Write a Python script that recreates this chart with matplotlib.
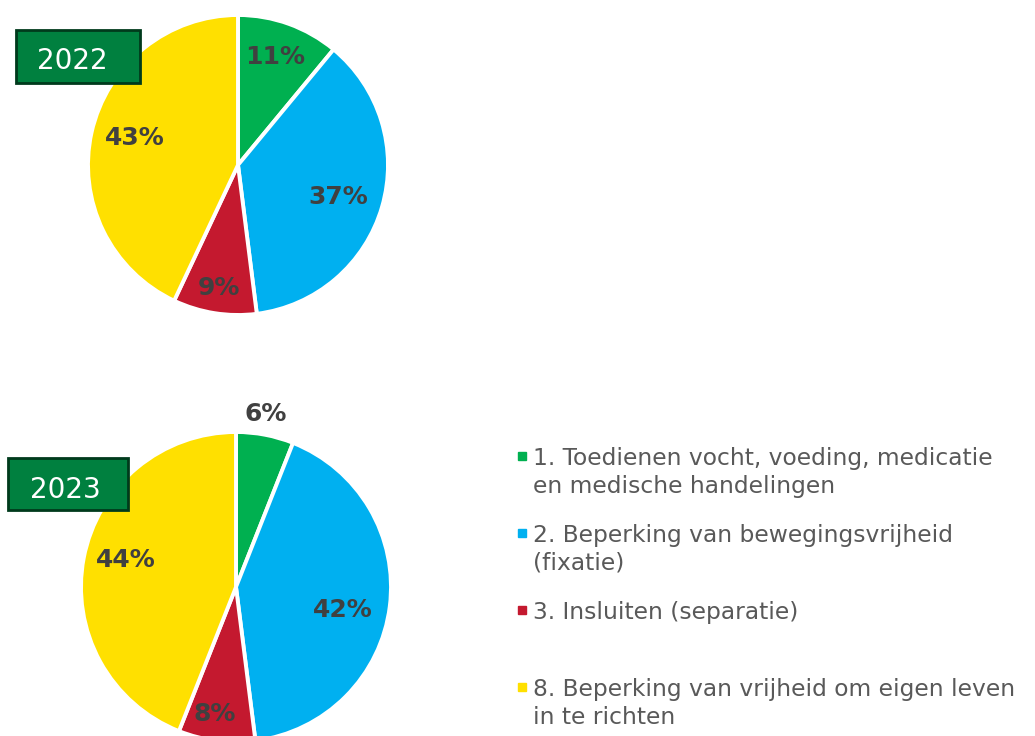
import numpy as np
import matplotlib
matplotlib.use("Agg")
from matplotlib import pyplot as plt
from matplotlib.patches import Rectangle

categories = [
    "1. Toedienen vocht, voeding, medicatie\nen medische handelingen",
    "2. Beperking van bewegingsvrijheid\n(fixatie)",
    "3. Insluiten (separatie)",
    "8. Beperking van vrijheid om eigen leven\nin te richten",
]
years = ["2022", "2023"]
pct_2022 = [11, 37, 9, 43]
pct_2023 = [6, 42, 8, 44]

colors = ["#00B050", "#00B0F0", "#C4192F", "#FFE000"]
label_color = "#404040"
legend_color = "#595959"
box_face = "#00803F"
box_edge = "#003A1C"

W, H = 1035, 736
fig = plt.figure(figsize=(W / 100, H / 100), dpi=100)


def px_axes(left, top, size):
    # axes rect from pixel coords (top-left origin)
    return fig.add_axes([left / W, (H - top - size) / H, size / W, size / H])


def draw_pie(ax, values, dists, shifts):
    wedges, _ = ax.pie(values, colors=colors, startangle=90, counterclock=False,
                       wedgeprops=dict(edgecolor="white", linewidth=2.8))
    ax.set_xlim(-1, 1)
    ax.set_ylim(-1, 1)
    for w, v, d, s in zip(wedges, values, dists, shifts):
        # s: clockwise nudge in degrees
        ang = np.deg2rad((w.theta1 + w.theta2) / 2 - s)
        ax.text(d * np.cos(ang), d * np.sin(ang), f"{v}%", ha="center",
                va="center", fontsize=18, fontweight="bold",
                color=label_color)


ax1 = px_axes(88, 15, 300)
draw_pie(ax1, pct_2022, [0.76, 0.70, 0.83, 0.71], [-0.8, 1.5, 0, 2])

ax2 = px_axes(81, 432, 310)
draw_pie(ax2, pct_2023, [1.135, 0.705, 0.83, 0.73], [-1, 4.7, 2.5, 3])

# overlay in pixel coords for year boxes and legend
ov = fig.add_axes([0, 0, 1, 1], zorder=10)
ov.set_xlim(0, W)
ov.set_ylim(H, 0)
ov.axis("off")

boxes = [(16, 30, 124, 53, 72, 69), (8, 458, 120, 52, 65, 498)]
for yr, (bx, by, bw, bh, tx, ty) in zip(years, boxes):
    ov.add_patch(Rectangle((bx, by), bw, bh, facecolor=box_face,
                           edgecolor=box_edge, linewidth=2))
    ov.text(tx, ty, yr, ha="center", va="baseline", fontsize=20, color="white")

leg_y = [465, 542, 619, 696]
line_h = 28
for lab, c, y in zip(categories, colors, leg_y):
    ov.plot(521.5, y - 9, marker="s", markersize=6, color=c, linestyle="none")
    for i, line in enumerate(lab.split("\n")):
        ov.text(533, y + i * line_h, line, ha="left", va="baseline",
                fontsize=16.8, color=legend_color)

fig.savefig("out.png", dpi=100)
